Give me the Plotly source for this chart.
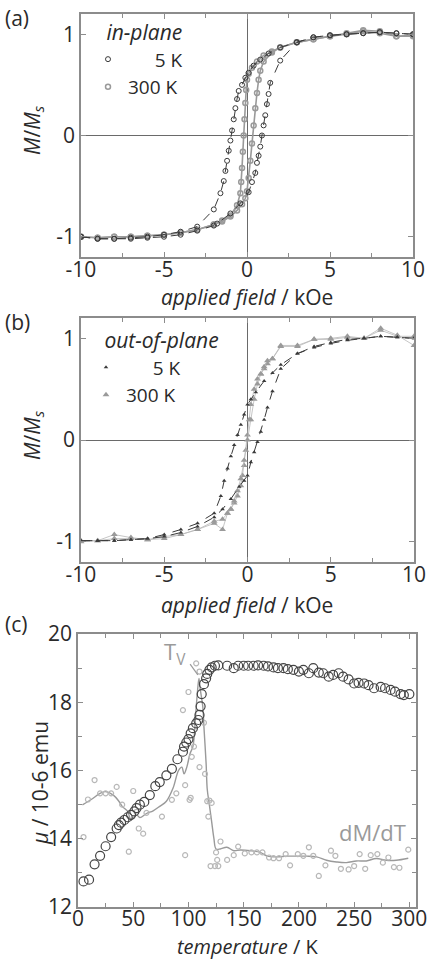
import plotly.graph_objects as go

# ---------------- Panel (a): in-plane loops ----------------
a5_desc_x = [10, 9, 8, 7, 6, 5, 4, 3, 2, 1.3, 0.8, 0.4, 0.1, -0.1, -0.3, -0.5, -0.6, -0.7, -0.8, -0.9, -1.0, -1.1, -1.2, -1.3, -1.4, -1.6, -2, -3, -4, -5, -6, -7, -8, -9, -10]
a5_desc_y = [1.0, 1.01, 1.02, 1.01, 1.0, 0.99, 0.97, 0.92, 0.87, 0.81, 0.75, 0.69, 0.62, 0.57, 0.50, 0.44, 0.36, 0.27, 0.16, 0.05, -0.05, -0.15, -0.25, -0.35, -0.45, -0.57, -0.73, -0.90, -0.95, -0.98, -1.0, -1.01, -1.02, -1.02, -1.0]
a5_asc_x = [-10, -9, -8, -7, -6, -5, -4, -3, -2, -1.8, -1.0, -0.4, 0.1, 0.3, 0.5, 0.6, 0.7, 0.8, 0.9, 1.0, 1.1, 1.2, 1.3, 1.4, 2, 3, 4, 5, 6, 7, 8, 9, 10]
a5_asc_y = [-1.0, -1.02, -1.02, -1.02, -1.01, -1.0, -0.98, -0.94, -0.89, -0.87, -0.77, -0.67, -0.56, -0.46, -0.37, -0.27, -0.20, -0.11, 0.0, 0.1, 0.2, 0.31, 0.41, 0.52, 0.74, 0.92, 0.97, 0.99, 1.0, 1.01, 1.02, 1.01, 1.0]

a300_desc_x = [10, 9, 8, 7, 6, 5, 4, 3, 2, 1.5, 1.0, 0.6, 0.3, 0.1, 0.0, -0.05, -0.1, -0.15, -0.2, -0.25, -0.3, -0.35, -0.4, -0.6, -1.0, -1.5, -2, -3, -4, -5, -6, -7, -8, -9, -10]
a300_desc_y = [0.99, 0.98, 1.03, 1.04, 1.01, 0.98, 0.95, 0.92, 0.87, 0.83, 0.79, 0.73, 0.67, 0.61, 0.55, 0.45, 0.32, 0.16, 0.0, -0.16, -0.32, -0.46, -0.57, -0.69, -0.79, -0.84, -0.88, -0.93, -0.96, -0.98, -0.99, -1.0, -1.0, -1.01, -1.0]
a300_asc_x = [-10, -9, -8, -7, -6, -5, -4, -3, -2, -1.5, -1.0, -0.6, -0.3, -0.1, 0.0, 0.1, 0.2, 0.3, 0.4, 0.5, 0.6, 0.7, 0.8, 1.0, 1.5, 2, 3, 4, 5, 6, 7, 8, 9, 10]
a300_asc_y = [-1.0, -1.01, -1.0, -1.0, -0.99, -0.98, -0.96, -0.93, -0.88, -0.85, -0.80, -0.74, -0.68, -0.62, -0.55, -0.42, -0.25, -0.08, 0.1, 0.27, 0.42, 0.55, 0.64, 0.73, 0.82, 0.87, 0.92, 0.95, 0.98, 1.0, 1.03, 1.01, 0.98, 0.98]

# ---------------- Panel (b): out-of-plane loops ----------------
b5_desc_x = [10, 9, 8, 7, 6, 5, 4, 3, 2, 1.5, 1.0, 0.5, 0.2, 0.0, -0.2, -0.4, -0.6, -0.8, -1.0, -1.2, -1.4, -1.6, -2, -3, -4, -5, -6, -7, -8, -9, -10]
b5_desc_y = [1.0, 1.01, 1.02, 1.0, 0.99, 0.96, 0.92, 0.85, 0.74, 0.66, 0.58, 0.47, 0.40, 0.35, 0.25, 0.15, 0.05, -0.05, -0.16, -0.28, -0.40, -0.55, -0.72, -0.82, -0.88, -0.93, -0.97, -0.98, -0.99, -0.99, -0.99]
b5_asc_x = [-10, -9, -8, -7, -6, -5, -4, -3, -2, -1.5, -1.0, -0.5, -0.2, 0.0, 0.2, 0.4, 0.6, 0.8, 1.0, 1.2, 1.5, 2, 3, 4, 5, 6, 7, 8, 9, 10]
b5_asc_y = [-0.99, -0.99, -0.99, -0.98, -0.97, -0.95, -0.91, -0.85, -0.76, -0.68, -0.58, -0.46, -0.40, -0.35, -0.22, -0.12, -0.02, 0.08, 0.20, 0.32, 0.48, 0.70, 0.85, 0.91, 0.95, 0.98, 1.0, 1.02, 1.01, 1.0]

b300_desc_x = [10, 9, 8, 7, 6, 5, 4, 3, 2, 1.5, 1.2, 1.0, 0.8, 0.6, 0.4, 0.2, 0.1, 0.0, -0.1, -0.2, -0.3, -0.4, -0.6, -0.8, -1.0, -1.2, -1.5, -2, -3, -4, -5, -6, -7, -8, -9, -10]
b300_desc_y = [0.93, 1.03, 1.1, 1.0, 1.02, 1.0, 0.99, 0.93, 0.93, 0.80, 0.75, 0.70, 0.65, 0.60, 0.50, 0.35, 0.20, 0.05, -0.10, -0.25, -0.35, -0.45, -0.55, -0.62, -0.68, -0.72, -0.88, -0.82, -0.88, -0.93, -0.95, -0.98, -0.96, -0.93, -0.99, -0.99]
b300_asc_x = [-10, -9, -8, -7, -6, -5, -4, -3, -2, -1.5, -1.2, -1.0, -0.8, -0.6, -0.4, -0.2, 0.0, 0.2, 0.4, 0.6, 0.8, 1.0, 1.2, 1.5, 2, 3, 4, 5, 6, 7, 8, 9, 10]
b300_asc_y = [-1.0, -0.99, -0.97, -0.97, -0.98, -0.97, -0.93, -0.88, -0.80, -0.78, -0.72, -0.68, -0.60, -0.50, -0.38, -0.20, 0.0, 0.20, 0.40, 0.55, 0.65, 0.72, 0.78, 0.80, 0.92, 0.92, 0.99, 0.99, 1.01, 1.0, 1.08, 1.02, 1.02]

# ---------------- Panel (c): moment vs temperature ----------------
T_M = [5, 10, 15, 20, 25, 30, 35, 37, 39, 42, 45, 48, 51, 53, 56, 60, 65, 70, 74, 80, 85, 90, 95, 96, 98, 100, 102, 104, 107, 109, 110, 111, 112, 114, 116, 117, 119, 121, 124, 127, 135, 141, 145, 150, 154, 159, 163, 168, 172, 177, 181, 186, 190, 195, 200, 204, 209, 213, 218, 222, 227, 231, 236, 240, 245, 250, 254, 259, 263, 268, 274, 278, 283, 287, 292, 295, 300]
mu_M = [12.75, 12.8, 13.25, 13.5, 13.78, 14.05, 14.3, 14.4, 14.47, 14.55, 14.63, 14.7, 14.8, 14.9, 15.0, 15.08, 15.28, 15.54, 15.66, 15.86, 16.05, 16.33, 16.55, 16.7, 16.82, 16.92, 17.09, 17.24, 17.38, 17.48, 17.63, 17.88, 18.24, 18.53, 18.7, 18.83, 18.95, 19.02, 19.07, 19.08, 19.07, 19.0, 19.07, 19.07, 19.07, 19.07, 19.08, 19.07, 19.05, 19.02, 19.0, 19.0, 18.97, 18.95, 18.9, 18.95, 18.85, 19.0, 18.87, 18.85, 18.75, 18.8, 18.85, 18.75, 18.67, 18.55, 18.57, 18.55, 18.5, 18.41, 18.45, 18.41, 18.36, 18.31, 18.24, 18.21, 18.24]

T_dMdT = [5, 9, 15, 20, 25, 30, 35, 40, 46, 50, 53, 55, 59, 62, 76, 85, 89, 95, 97, 97, 100, 101, 102, 103, 105, 107, 110, 110, 114, 115, 117, 118, 119, 121, 120, 124, 125, 126, 127, 129, 135, 141, 145, 151, 157, 162, 167, 173, 177, 182, 188, 192, 199, 204, 209, 213, 218, 224, 229, 233, 238, 245, 250, 255, 260, 265, 271, 276, 281, 286, 291, 299]
v_dMdT = [14.05, 15.15, 15.72, 15.33, 15.33, 15.33, 15.52, 15.0, 13.62, 15.4, 14.79, 14.3, 14.15, 14.76, 14.65, 15.14, 15.33, 17.77, 13.52, 15.57, 18.3, 15.14, 15.2, 16.4, 16.7, 19.14, 18.9, 16.1, 17.4, 15.9, 15.1, 14.65, 15.12, 15.05, 13.2, 13.2, 13.6, 13.38, 13.2, 13.92, 13.38, 13.52, 13.77, 13.57, 13.6, 13.6, 13.6, 13.45, 13.43, 13.43, 13.55, 13.22, 13.55, 13.5, 13.75, 13.5, 12.91, 13.22, 13.65, 13.5, 13.12, 13.1, 13.2, 13.55, 13.12, 13.52, 13.55, 13.3, 13.45, 13.17, 13.15, 13.68]

T_smooth = [4, 12, 20, 25, 32, 37, 40, 45, 48, 53, 56, 62, 68, 74, 80, 86, 91, 94, 96, 98.5, 101.5, 104, 106.6, 108, 109.5, 110.6, 113, 114, 116, 117, 119, 121, 123, 125, 128.7, 134.8, 141, 147, 156, 165, 171, 180, 189, 198, 207, 216, 225, 234, 243, 252, 261, 270, 279, 288, 299]
v_smooth = [14.99, 15.15, 15.33, 15.38, 15.28, 15.1, 14.95, 14.8, 14.55, 14.7, 14.62, 14.74, 14.82, 14.95, 15.1, 15.48, 16.0, 16.1, 15.9, 16.1, 16.5, 16.7, 17.67, 18.25, 18.7, 18.4, 17.86, 17.28, 16.2, 15.45, 14.98, 14.5, 14.02, 13.7, 13.7, 13.75, 13.65, 13.67, 13.65, 13.6, 13.5, 13.47, 13.49, 13.49, 13.49, 13.47, 13.37, 13.32, 13.3, 13.35, 13.35, 13.42, 13.37, 13.37, 13.43]

# ---------------- styles ----------------
FONT = "Open Sans"
DARK = "#3a3a3a"
GRAY = "#9a9a9a"
LGRAY = "#b8b8b8"
FRAME = "#8c8c8c"
TXT = "#2a2a2a"
TICK = 21

fig = go.Figure()

def loop(xs, ys, xa, ya, color, dash, width, symbol, msize, mfill=None, lw=1.0):
    fig.add_trace(go.Scatter(x=xs, y=ys, xaxis=xa, yaxis=ya, mode="lines+markers",
                             line=dict(color=color, dash=dash, width=width),
                             marker=dict(symbol=symbol, size=msize, color=mfill or color,
                                         line=dict(color=mfill or color, width=lw)),
                             showlegend=False, hoverinfo="skip"))

def key(xa, ya, symbol, size, color, lw, name, legend):
    fig.add_trace(go.Scatter(x=[None], y=[None], xaxis=xa, yaxis=ya, mode="markers",
                             marker=dict(symbol=symbol, size=size, color=color, line=dict(width=lw, color=color)),
                             name=name, legend=legend, showlegend=True))

# (a)
loop(a300_desc_x, a300_desc_y, "x", "y", GRAY, "solid", 1.6, "circle-open", 5, lw=1.5)
loop(a300_asc_x, a300_asc_y, "x", "y", GRAY, "solid", 1.6, "circle-open", 5, lw=1.5)
loop(a5_desc_x, a5_desc_y, "x", "y", DARK, "dash", 1.0, "circle-open", 5)
loop(a5_asc_x, a5_asc_y, "x", "y", DARK, "dash", 1.0, "circle-open", 5)
key("x", "y", "circle-open", 5, DARK, 1.0, "\u2007\u2007\u00a05 K", "legend")
key("x", "y", "circle-open", 5, GRAY, 1.5, "300 K", "legend")

# (b)
loop(b300_desc_x, b300_desc_y, "x2", "y2", LGRAY, "solid", 0.8, "triangle-up", 6, mfill=GRAY, lw=0)
loop(b300_asc_x, b300_asc_y, "x2", "y2", LGRAY, "solid", 0.8, "triangle-up", 6, mfill=GRAY, lw=0)
loop(b5_desc_x, b5_desc_y, "x2", "y2", DARK, "dash", 1.0, "triangle-up", 4, lw=0)
loop(b5_asc_x, b5_asc_y, "x2", "y2", DARK, "dash", 1.0, "triangle-up", 4, lw=0)
key("x2", "y2", "triangle-up", 4, DARK, 0, "\u2007\u2007\u00a05 K", "legend2")
key("x2", "y2", "triangle-up", 6, GRAY, 0, "300 K", "legend2")

# (c)
fig.add_trace(go.Scatter(x=T_smooth, y=v_smooth, xaxis="x3", yaxis="y3", mode="lines",
                         line=dict(color=GRAY, width=1.4, shape="spline"), showlegend=False))
fig.add_trace(go.Scatter(x=T_dMdT, y=v_dMdT, xaxis="x3", yaxis="y3", mode="markers",
                         marker=dict(symbol="circle-open", size=5, color=LGRAY, line=dict(width=1.2, color=LGRAY)),
                         showlegend=False))
fig.add_trace(go.Scatter(x=T_M, y=mu_M, xaxis="x3", yaxis="y3", mode="markers",
                         marker=dict(symbol="circle-open", size=9, color="#444444", line=dict(width=1.2, color="#444444")),
                         showlegend=False))

W, H = 431, 959
def px_x(a, b):
    return [a / W, b / W]
def px_y(top, bot):
    return [1 - bot / H, 1 - top / H]

common = dict(showgrid=False, showline=True, linecolor=FRAME, linewidth=1.5, mirror="ticks",
              ticks="inside", ticklen=5, tickcolor=FRAME, tickwidth=1.2, automargin=False,
              tickfont=dict(family=FONT, size=TICK, color=TXT))

xa = dict(common, range=[-10, 10], tickvals=[-10, -5, 0, 5, 10], ticktext=["-10", "-5", "0", "5", "10"],
          minor=dict(dtick=2.5, ticks="inside", ticklen=4, tickcolor=FRAME),
          zeroline=True, zerolinecolor="#6a6a6a", zerolinewidth=1.2, ticklabelstandoff=-7)
ya = dict(common, range=[-1.2, 1.2], tickvals=[-1, 0, 1], ticktext=["-1", "0", "1"],
          zeroline=True, zerolinecolor="#6a6a6a", zerolinewidth=1.2, ticklabelstandoff=0)

leg_font = dict(family=FONT, size=19, color=TXT)
fig.update_layout(
    width=W, height=H, margin=dict(l=0, r=0, t=0, b=0, autoexpand=False),
    paper_bgcolor="white", plot_bgcolor="white",
    font=dict(family=FONT, color=TXT),
    xaxis=dict(xa, domain=px_x(81, 413), anchor="y"),
    yaxis=dict(ya, domain=px_y(14, 257), anchor="x"),
    xaxis2=dict(xa, domain=px_x(81, 414), anchor="y2"),
    yaxis2=dict(ya, domain=px_y(318, 562), anchor="x2"),
    xaxis3=dict(common, domain=px_x(78, 416), anchor="y3", range=[0, 306],
                tickvals=[0, 50, 100, 150, 200, 250, 300], zeroline=False, ticklabelstandoff=-8,
                minor=dict(dtick=25, ticks="inside", ticklen=4, tickcolor=FRAME)),
    yaxis3=dict(common, domain=px_y(634, 907), anchor="x3", range=[12, 20],
                tickvals=[12, 14, 16, 18, 20], zeroline=False, ticklabelstandoff=0,
                minor=dict(dtick=1, ticks="inside", ticklen=4, tickcolor=FRAME)),
    legend=dict(x=88 / W, y=1 - 13 / H, xanchor="left", yanchor="top", bgcolor="rgba(0,0,0,0)",
                font=leg_font, tracegroupgap=0, itemwidth=30,
                title=dict(text="\u00a0\u00a0\u00a0<i>in-plane</i>", font=dict(family=FONT, size=21, color=TXT))),
    legend2=dict(x=86 / W, y=1 - 321 / H, xanchor="left", yanchor="top", bgcolor="rgba(0,0,0,0)",
                 font=leg_font, tracegroupgap=0, itemwidth=30,
                 title=dict(text="\u00a0\u00a0\u00a0<i>out-of-plane</i>", font=dict(family=FONT, size=21, color=TXT))),
)

ann = []
def txt(x, y, s, size=21, color=TXT, angle=0, xanchor="center"):
    ann.append(dict(x=x / W, y=1 - y / H, xref="paper", yref="paper", text=s, showarrow=False,
                    font=dict(family=FONT, size=size, color=color), textangle=angle,
                    xanchor=xanchor, yanchor="middle"))

txt(3, 18, "(a)", 21, xanchor="left")
txt(3, 322, "(b)", 21, xanchor="left")
txt(3, 624, "(c)", 21, xanchor="left")
txt(247, 297, "<i>applied field</i> / kOe")
txt(247, 605, "<i>applied field</i> / kOe")
txt(247, 946, "<i>temperature</i> / K", size=20)
txt(33, 130, "<i>M</i>/<i>M</i><sub><i>s</i></sub>", angle=-90)
txt(33, 435, "<i>M</i>/<i>M</i><sub><i>s</i></sub>", angle=-90)
txt(40, 783, "<i>μ</i> / 10-6 emu", angle=-90)
fig.update_layout(annotations=ann)

fig.add_annotation(x=88, y=19.45, xref="x3", yref="y3", text="T<sub>V</sub>", showarrow=False,
                   font=dict(family=FONT, size=22, color=GRAY))
fig.add_annotation(x=267, y=14.2, xref="x3", yref="y3", text="dM/dT", showarrow=False,
                   font=dict(family=FONT, size=22, color=GRAY))
fig.add_shape(type="line", xref="x3", yref="y3", x0=101.5, y0=19.12, x1=108.5, y1=18.8,
              line=dict(color=GRAY, width=1.2))

fig.write_html("out.html")
